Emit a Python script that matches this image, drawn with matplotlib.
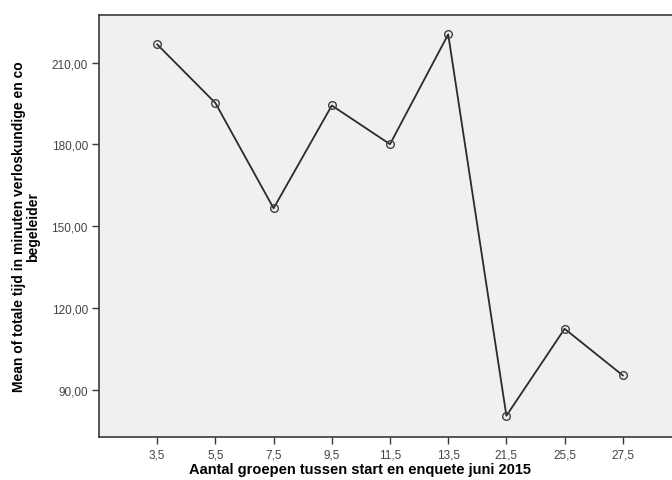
import matplotlib
matplotlib.use("Agg")
import matplotlib.pyplot as plt

categories = ["3,5", "5,5", "7,5", "9,5", "11,5", "13,5", "21,5", "25,5", "27,5"]
means = [216.7, 195.2, 156.6, 194.3, 180.1, 220.4, 80.5, 112.4, 95.3]
yticks = [90, 120, 150, 180, 210]
ytick_labels = ["90,00", "120,00", "150,00", "180,00", "210,00"]

plt.rcParams['font.family'] = ['Liberation Sans', 'DejaVu Sans']

fig = plt.figure(figsize=(6.72, 4.81), dpi=100)
ax = fig.add_axes([99/672, (481-438.3)/481, 582/672, (438.3-15.7)/481])
ax.set_facecolor("#f0f0f0")

x = list(range(len(categories)))
ax.plot(x, means, color="#2b2b2b", lw=1.3, marker="o", ms=5.5,
        mfc="none", mec="#404040", mew=1.0, zorder=3)

ax.set_xlim(-1, len(categories))
ax.set_ylim(72.6, 227.6)
ax.set_xticks(x)
ax.set_xticklabels(categories)
ax.set_yticks(yticks)
ax.set_yticklabels(ytick_labels)

for s in ax.spines.values():
    s.set_color("#3a3a3a")
    s.set_linewidth(1.2)

ax.tick_params(axis="both", direction="out", length=5, width=1.0,
               color="#3a3a3a", labelsize=8.5, labelcolor="#444444", pad=3)

ax.set_xlabel("Aantal groepen tussen start en enquete juni 2015",
              fontsize=10.5, fontweight="bold")
ax.xaxis.set_label_coords((360 - 99) / 582, -(470 - 438.3) / 422.6, transform=ax.transAxes)
ax.xaxis.label.set_va("center")
ax.set_ylabel("Mean of totale tijd in minuten verloskundige en co\nbegeleider",
              fontsize=10, fontweight="bold", labelpad=8, linespacing=1.0)

fig.savefig("out.png", dpi=100)
